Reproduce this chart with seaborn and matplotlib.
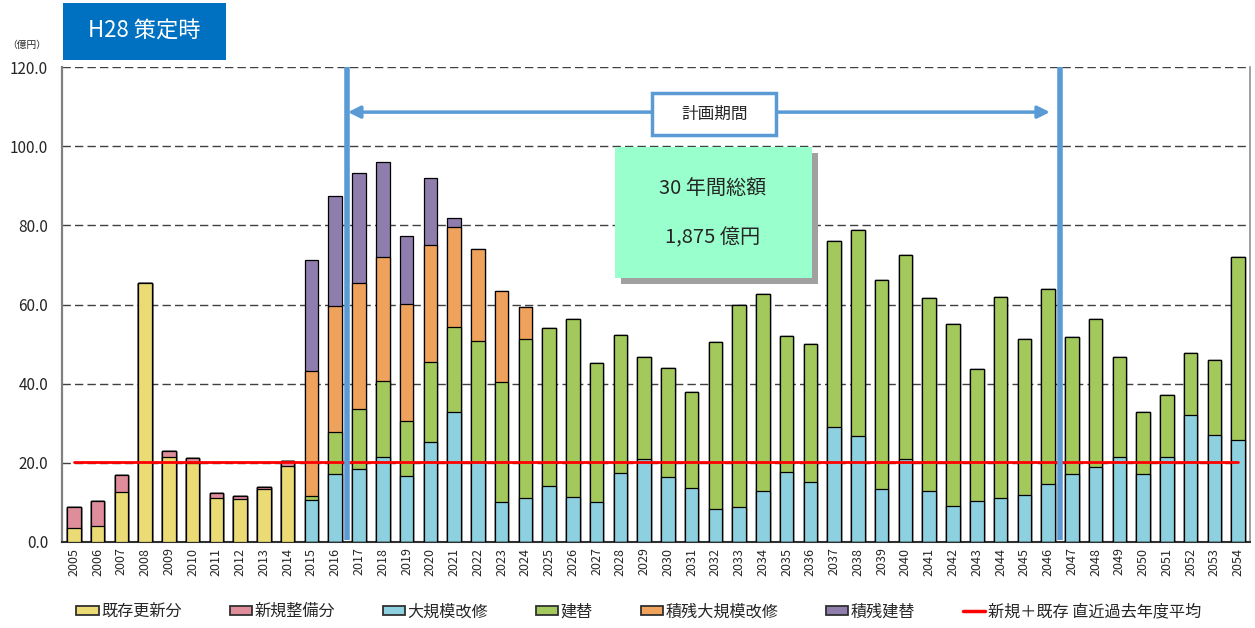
import numpy as np
import pandas as pd
import matplotlib
matplotlib.use("Agg")
import matplotlib.pyplot as plt
import seaborn as sns
from matplotlib.patches import Patch, Rectangle
from matplotlib.lines import Line2D

# ---------------- data ----------------
years = list(range(2005, 2055))
existing = [3.5, 4.0, 12.6, 65.4, 21.5, 20.0, 11.0, 10.9, 13.3, 19.2] + [0.0] * 40
new_dev = [5.3, 6.3, 4.3, 0.0, 1.5, 1.2, 1.4, 0.7, 0.6, 1.2] + [0.0] * 40
major_repair = [0.0] * 10 + [
    10.6, 17.1, 18.4, 21.6, 16.8, 25.3, 32.8, 20.3, 10.2, 11.0,
    14.2, 11.3, 10.0, 17.5, 20.9, 16.3, 13.6, 8.3, 8.9, 12.9,
    17.7, 15.2, 29.1, 26.9, 13.3, 21.0, 13.0, 9.1, 10.4, 11.2,
    12.0, 14.6, 17.2, 19.0, 21.4, 17.3, 21.4, 32.1, 27.0, 25.8]
rebuild = [0.0] * 10 + [
    1.0, 10.8, 15.3, 19.2, 13.7, 20.3, 21.6, 30.6, 30.1, 40.2,
    39.8, 45.0, 35.2, 34.7, 25.8, 27.7, 24.3, 42.2, 51.0, 49.8,
    34.3, 34.8, 46.9, 51.8, 52.8, 51.4, 48.7, 45.9, 33.2, 50.8,
    39.2, 49.3, 34.5, 37.3, 25.4, 15.6, 15.7, 15.7, 18.9, 46.3]
backlog_repair = [0.0] * 10 + [31.6, 31.6, 31.7, 31.1, 29.6, 29.5, 25.2, 23.0, 23.0, 8.1] + [0.0] * 30
backlog_rebuild = [0.0] * 10 + [28.0, 27.9, 27.7, 24.1, 17.1, 16.9, 2.2] + [0.0] * 33
avg_value = 20.3
plan_start, plan_end = 2017, 2046

series_names = ["既存更新分", "新規整備分", "大規模改修", "建替", "積残大規模改修", "積残建替"]
series_vals = [existing, new_dev, major_repair, rebuild, backlog_repair, backlog_rebuild]
series_colors = ["#EADB74", "#E08D9B", "#8DD1E1", "#A3C95C", "#EFA25C", "#8F7DAE"]
avg_label = "新規＋既存 直近過去年度平均"

# ---------------- plot ----------------
sns.set_style("white")
plt.rcParams["font.family"] = ["Noto Sans CJK JP", "DejaVu Sans"]

fig = plt.figure(figsize=(12.55, 6.28), dpi=100)
ax = fig.add_axes([62 / 1255, 1 - 542 / 628, 1188 / 1255, 475 / 628])

labels = [str(y) for y in years]
df = pd.DataFrame({"year": labels})
cum = np.zeros(len(years))
cums = []
for v in series_vals:
    cum = cum + np.array(v)
    cums.append(cum.copy())

for name, c, color in reversed(list(zip(series_names, cums, series_colors))):
    d = df.copy()
    d["v"] = c
    sns.barplot(data=d, x="year", y="v", order=labels, color=color,
                saturation=1, edgecolor="black", linewidth=0.9, width=0.57,
                ax=ax, zorder=3)

ax.set_xlim(-0.5, len(years) - 0.5)
ax.set_ylim(0, 120)
ax.set_yticks(np.arange(0, 121, 20))
ax.set_yticklabels([f"{t:.1f}" for t in np.arange(0, 121, 20)], fontsize=11)
ax.set_xticks(range(len(years)))
ax.set_xticklabels(labels, rotation=90, fontsize=9)
ax.set_xlabel("")
ax.set_ylabel("")
ax.tick_params(axis="y", length=4, color="#808080", pad=6)
ax.tick_params(axis="x", length=0, pad=4)
for yv in np.arange(20, 121, 20):
    ax.axhline(yv, color="#404040", lw=1.0, ls=(0, (6, 3)), zorder=1)
ax.spines["top"].set_visible(False)
ax.spines["left"].set_color("#808080")
ax.spines["left"].set_linewidth(1.6)
ax.spines["right"].set_color("#909090")
ax.spines["right"].set_linewidth(1.2)
ax.spines["bottom"].set_color("#303030")
ax.spines["bottom"].set_linewidth(1.5)

# average line
ax.plot([0, len(years) - 1], [avg_value, avg_value], color="#FF0000", lw=2, zorder=5)

# plan period lines
xs = years.index(plan_start) - 0.5
xe = years.index(plan_end) + 0.5
for xv in (xs, xe):
    ax.plot([xv, xv], [0.4, 120], color="#5B9BD5", lw=4, zorder=6, solid_capstyle="butt")

# arrow
ax.annotate("", xy=(0.8316, 0.905), xytext=(0.2407, 0.905), xycoords="axes fraction",
            arrowprops=dict(arrowstyle="<|-|>", color="#5B9BD5", lw=2.5,
                            mutation_scale=18, shrinkA=0, shrinkB=0), zorder=7)
ax.add_patch(Rectangle((0.4966, 0.857), 0.1044, 0.088, transform=ax.transAxes,
                       facecolor="white", edgecolor="#5B9BD5", lw=2.5, zorder=8))
ax.text(0.549, 0.901, "計画期間", transform=ax.transAxes, ha="center", va="center",
        fontsize=12, zorder=9)

# total box
ax.add_patch(Rectangle((0.4655 + 0.005, 0.5558 - 0.0126), 0.1658, 0.2758, transform=ax.transAxes,
                       facecolor="#A0A0A0", edgecolor="none", zorder=8))
ax.add_patch(Rectangle((0.4655, 0.5558), 0.1658, 0.2758, transform=ax.transAxes,
                       facecolor="#99FFCC", edgecolor="none", zorder=9))
ax.text(0.548, 0.745, "30 年間総額", transform=ax.transAxes, ha="center", va="center",
        fontsize=14.5, zorder=10)
ax.text(0.548, 0.64, "1,875 億円", transform=ax.transAxes, ha="center", va="center",
        fontsize=14.5, zorder=10)

# title box
fig.patches.append(Rectangle((63 / 1255, 1 - 60 / 628), 163 / 1255, 57 / 628,
                             transform=fig.transFigure, facecolor="#0070C0",
                             edgecolor="none"))
fig.text(0.115, 0.950, "H28 策定時", color="white", fontsize=16, ha="center", va="center")
fig.text(0.021, 0.928, "（億円）", fontsize=7, ha="center", va="center")

# legend
handles = [Patch(facecolor=c, edgecolor="#303030", lw=1.3) for c in series_colors]
handles.append(Line2D([0], [0], color="#FF0000", lw=2.5))
fig.legend(handles, series_names + [avg_label], loc="center", bbox_to_anchor=(0.509, 0.026),
           ncol=7, frameon=False, fontsize=11.6, handlelength=1.4, handleheight=0.55,
           handletextpad=0.15, columnspacing=2.95)

fig.savefig("out.png", dpi=100)
